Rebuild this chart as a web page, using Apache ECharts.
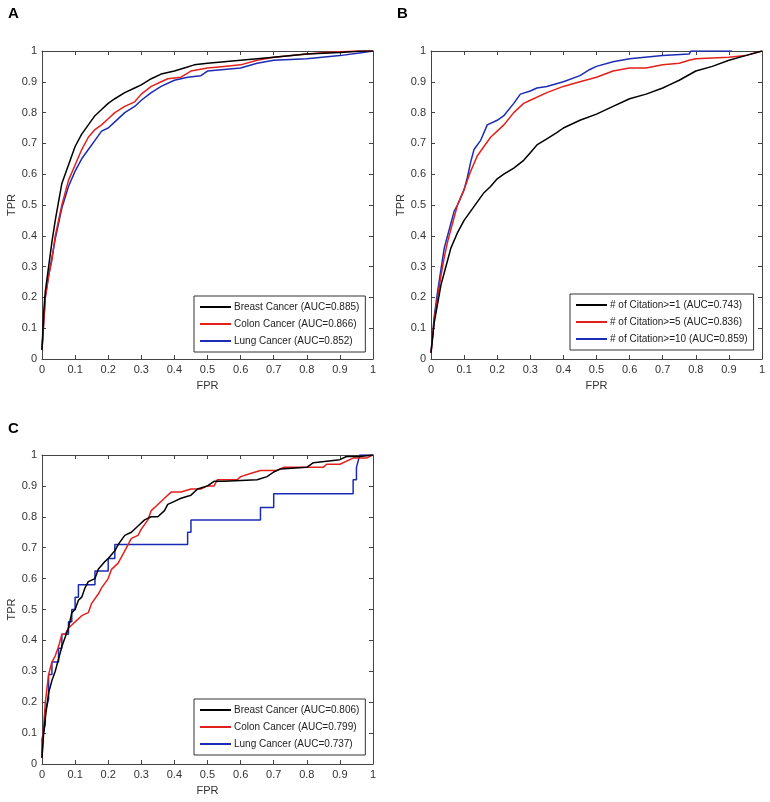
<!DOCTYPE html>
<html><head><meta charset="utf-8">
<script src="https://cdn.jsdelivr.net/npm/echarts@6/dist/echarts.min.js"></script>
<style>html,body{margin:0;padding:0;background:#fff}#c{width:770px;height:802px}</style>
</head><body><div id="c"></div>
<script>
// ---- data ----
const panelLabels = ['A', 'B', 'C'];
const axisTicks = [0, 0.1, 0.2, 0.3, 0.4, 0.5, 0.6, 0.7, 0.8, 0.9, 1];
const xName = 'FPR';
const yName = 'TPR';

const namesA = ['Breast Cancer (AUC=0.885)', 'Colon Cancer (AUC=0.866)', 'Lung Cancer (AUC=0.852)'];
const namesB = ['# of Citation>=1 (AUC=0.743)', '# of Citation>=5 (AUC=0.836)', '# of Citation>=10 (AUC=0.859)'];
const namesC = ['Breast Cancer (AUC=0.806)', 'Colon Cancer (AUC=0.799)', 'Lung Cancer (AUC=0.737)'];

const breastA = [[0,0.03],[0.005,0.15],[0.01,0.22],[0.02,0.3],[0.03,0.38],[0.04,0.45],[0.05,0.51],[0.06,0.57],[0.07,0.6],[0.08,0.63],[0.09,0.66],[0.1,0.69],[0.12,0.73],[0.14,0.76],[0.16,0.79],[0.18,0.81],[0.2,0.83],[0.22,0.845],[0.25,0.865],[0.28,0.88],[0.3,0.89],[0.33,0.91],[0.36,0.925],[0.4,0.935],[0.43,0.945],[0.46,0.955],[0.5,0.96],[0.55,0.965],[0.6,0.97],[0.65,0.975],[0.7,0.98],[0.8,0.99],[0.9,0.995],[0.97,1],[1,1]];
const colonA = [[0,0.03],[0.01,0.2],[0.02,0.27],[0.03,0.32],[0.04,0.4],[0.05,0.45],[0.06,0.5],[0.07,0.54],[0.08,0.58],[0.1,0.63],[0.12,0.68],[0.14,0.72],[0.16,0.745],[0.18,0.76],[0.2,0.78],[0.22,0.8],[0.25,0.82],[0.28,0.835],[0.3,0.86],[0.33,0.885],[0.36,0.9],[0.38,0.91],[0.42,0.915],[0.45,0.935],[0.5,0.945],[0.55,0.95],[0.6,0.955],[0.65,0.97],[0.7,0.98],[0.8,0.99],[0.86,0.995],[0.95,1],[1,1]];
const lungA = [[0,0.03],[0.01,0.2],[0.02,0.27],[0.03,0.33],[0.04,0.39],[0.05,0.44],[0.06,0.49],[0.08,0.56],[0.1,0.61],[0.12,0.65],[0.14,0.68],[0.16,0.71],[0.18,0.74],[0.2,0.75],[0.22,0.77],[0.25,0.8],[0.28,0.82],[0.3,0.84],[0.33,0.865],[0.36,0.885],[0.4,0.905],[0.44,0.915],[0.48,0.92],[0.5,0.935],[0.55,0.94],[0.6,0.945],[0.65,0.96],[0.7,0.97],[0.8,0.975],[0.9,0.985],[0.97,0.995],[1,1]];

const cit1B = [[0,0.02],[0.01,0.12],[0.02,0.18],[0.03,0.24],[0.04,0.28],[0.05,0.32],[0.06,0.36],[0.08,0.41],[0.1,0.45],[0.12,0.48],[0.14,0.51],[0.16,0.54],[0.18,0.56],[0.2,0.585],[0.22,0.6],[0.25,0.62],[0.28,0.645],[0.3,0.67],[0.32,0.695],[0.35,0.715],[0.38,0.735],[0.4,0.75],[0.45,0.775],[0.5,0.795],[0.55,0.82],[0.6,0.845],[0.65,0.86],[0.7,0.88],[0.72,0.89],[0.75,0.905],[0.8,0.935],[0.85,0.95],[0.9,0.97],[0.95,0.985],[1,1]];
const cit5B = [[0,0.02],[0.01,0.13],[0.02,0.2],[0.03,0.27],[0.04,0.33],[0.05,0.38],[0.06,0.42],[0.07,0.46],[0.08,0.5],[0.1,0.55],[0.12,0.61],[0.14,0.66],[0.16,0.69],[0.18,0.72],[0.2,0.74],[0.22,0.76],[0.25,0.8],[0.28,0.83],[0.3,0.84],[0.35,0.865],[0.4,0.885],[0.45,0.9],[0.5,0.915],[0.55,0.935],[0.6,0.945],[0.65,0.945],[0.7,0.955],[0.75,0.96],[0.78,0.97],[0.8,0.975],[0.9,0.98],[0.95,0.985],[1,1]];
const cit10B = [[0,0.02],[0.01,0.14],[0.02,0.22],[0.03,0.29],[0.04,0.36],[0.05,0.4],[0.06,0.44],[0.07,0.48],[0.08,0.5],[0.1,0.55],[0.11,0.59],[0.12,0.64],[0.13,0.68],[0.15,0.71],[0.17,0.76],[0.2,0.775],[0.22,0.79],[0.25,0.83],[0.27,0.86],[0.3,0.87],[0.32,0.88],[0.35,0.885],[0.4,0.9],[0.45,0.92],[0.48,0.94],[0.5,0.95],[0.55,0.965],[0.6,0.975],[0.7,0.985],[0.78,0.99],[0.785,1],[0.91,1]];

const breastC = [[0,0.02],[0.005,0.1],[0.01,0.15],[0.02,0.23],[0.03,0.27],[0.04,0.3],[0.05,0.34],[0.06,0.38],[0.07,0.41],[0.08,0.44],[0.09,0.49],[0.1,0.5],[0.11,0.53],[0.12,0.54],[0.13,0.57],[0.14,0.59],[0.16,0.6],[0.17,0.63],[0.19,0.655],[0.2,0.665],[0.22,0.69],[0.23,0.71],[0.25,0.74],[0.27,0.75],[0.29,0.77],[0.31,0.79],[0.33,0.8],[0.35,0.8],[0.37,0.82],[0.38,0.84],[0.4,0.85],[0.42,0.86],[0.45,0.87],[0.47,0.89],[0.5,0.9],[0.52,0.915],[0.55,0.915],[0.65,0.92],[0.68,0.93],[0.7,0.945],[0.72,0.955],[0.8,0.96],[0.82,0.975],[0.9,0.985],[0.92,0.995],[0.96,0.995],[1,1]];
const colonC = [[0,0.02],[0.005,0.12],[0.01,0.2],[0.02,0.29],[0.03,0.33],[0.04,0.35],[0.05,0.38],[0.06,0.42],[0.07,0.42],[0.08,0.44],[0.09,0.45],[0.1,0.46],[0.12,0.48],[0.14,0.49],[0.15,0.52],[0.17,0.55],[0.18,0.57],[0.2,0.6],[0.21,0.63],[0.23,0.65],[0.25,0.69],[0.27,0.73],[0.29,0.74],[0.3,0.76],[0.32,0.79],[0.33,0.82],[0.35,0.84],[0.37,0.86],[0.39,0.88],[0.42,0.88],[0.45,0.89],[0.48,0.89],[0.5,0.9],[0.52,0.9],[0.53,0.92],[0.59,0.92],[0.6,0.93],[0.63,0.94],[0.66,0.95],[0.71,0.95],[0.73,0.96],[0.85,0.96],[0.86,0.97],[0.9,0.97],[0.94,0.99],[0.98,0.99],[1,1]];
const lungC = [[0,0.02],[0,0.08],[0.01,0.13],[0.01,0.17],[0.02,0.21],[0.02,0.29],[0.03,0.29],[0.03,0.33],[0.05,0.33],[0.05,0.375],[0.06,0.375],[0.06,0.42],[0.08,0.42],[0.08,0.46],[0.09,0.46],[0.09,0.5],[0.1,0.5],[0.1,0.54],[0.11,0.54],[0.11,0.58],[0.16,0.58],[0.16,0.625],[0.2,0.625],[0.2,0.665],[0.22,0.665],[0.22,0.71],[0.44,0.71],[0.44,0.75],[0.45,0.75],[0.45,0.79],[0.66,0.79],[0.66,0.83],[0.7,0.83],[0.7,0.875],[0.94,0.875],[0.94,0.92],[0.95,0.92],[0.95,0.96],[0.96,1],[1,1]];

// ---- styling / layout ----
const colors = ['#000000', '#e2211c', '#1b2cb4'];
const FONT = 'Liberation Sans, Arial, sans-serif';
const grids = [
  { left: 42, top: 51, width: 331, height: 308 },
  { left: 431, top: 51, width: 331, height: 308 },
  { left: 42, top: 455, width: 331, height: 309 }
];
const legendPos = [
  { left: 194, top: 296 },
  { left: 570, top: 294 },
  { left: 194, top: 699 }
];
const titlePos = [
  { left: 3, top: 1 },
  { left: 392, top: 1 },
  { left: 3, top: 416 }
];
const panelSeries = [
  [namesA, [breastA, colonA, lungA]],
  [namesB, [cit1B, cit5B, cit10B]],
  [namesC, [breastC, colonC, lungC]]
];

const axisMin = axisTicks[0];
const axisMax = axisTicks[axisTicks.length - 1];
const axisInterval = axisTicks[1] - axisTicks[0];

const xAxes = [], yAxes = [], series = [], legends = [], titles = [];
const lineCol = '#444';
panelSeries.forEach((p, gi) => {
  const base = {
    type: 'value', gridIndex: gi, min: axisMin, max: axisMax, interval: axisInterval,
    splitLine: { show: false },
    axisLine: { show: true, onZero: false, lineStyle: { color: lineCol, width: 1 } },
    axisTick: { show: true, inside: true, length: 4, lineStyle: { color: lineCol } },
    axisLabel: { show: true, color: '#333', fontSize: 11, fontFamily: FONT, margin: 5 }
  };
  xAxes.push(Object.assign({}, base, {
    position: 'bottom', name: xName, nameLocation: 'middle', nameGap: 21,
    nameTextStyle: { color: '#333', fontSize: 11, fontFamily: FONT }
  }));
  xAxes.push(Object.assign({}, base, { position: 'top', axisLabel: { show: false } }));
  yAxes.push(Object.assign({}, base, {
    position: 'left', name: yName, nameLocation: 'middle', nameGap: 23,
    nameTextStyle: { color: '#333', fontSize: 11, fontFamily: FONT }
  }));
  yAxes.push(Object.assign({}, base, { position: 'right', axisLabel: { show: false } }));

  const names = p[0], datas = p[1];
  names.forEach((nm, si) => {
    series.push({
      type: 'line', name: nm, xAxisIndex: gi * 2, yAxisIndex: gi * 2,
      data: datas[si], showSymbol: false, symbol: 'none',
      lineStyle: { color: colors[si], width: 1.5 }, itemStyle: { color: colors[si] },
      z: 3 - si, animation: false
    });
  });
  legends.push({
    data: names, orient: 'vertical', left: legendPos[gi].left, top: legendPos[gi].top,
    backgroundColor: '#fff', borderColor: '#333', borderWidth: 1,
    padding: [6, 6, 6, 6], itemGap: 7, itemWidth: 31, itemHeight: 2, icon: 'rect',
    textStyle: { fontSize: 10, fontFamily: FONT, color: '#222', padding: [0, 0, 0, -2] },
    selectedMode: false
  });
  titles.push({
    text: panelLabels[gi], left: titlePos[gi].left, top: titlePos[gi].top,
    textStyle: { fontSize: 15, fontWeight: 'bold', fontFamily: FONT, color: '#000' }
  });
});

const chart = echarts.init(document.getElementById('c'), null, { renderer: 'canvas' });
chart.setOption({
  animation: false,
  backgroundColor: '#fff',
  title: titles,
  grid: grids.map(g => Object.assign({ containLabel: false }, g)),
  xAxis: xAxes,
  yAxis: yAxes,
  legend: legends,
  series: series
});
</script>
</body></html>
